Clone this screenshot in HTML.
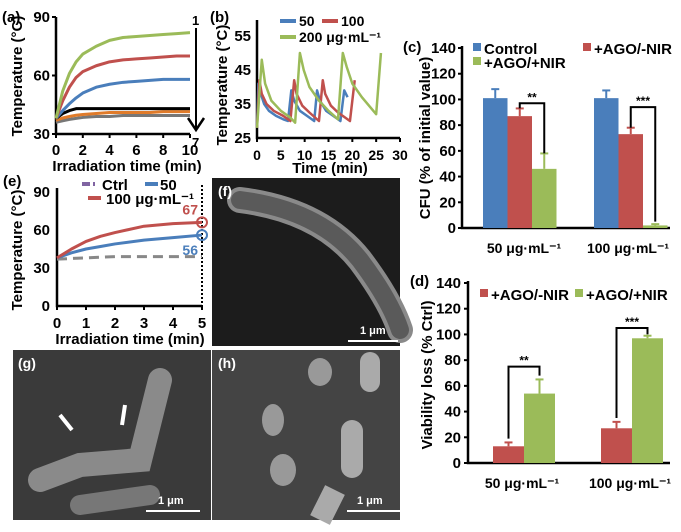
<!DOCTYPE html>
<html><head><meta charset="utf-8"><style>
body{margin:0;background:#fff;width:681px;height:527px;overflow:hidden}
svg{font-family:"Liberation Sans",Arial,sans-serif;font-weight:bold}
</style></head><body>
<svg id="fig" width="681" height="527" viewBox="0 0 681 527">
<g>
<rect x="212" y="178" width="188" height="168" fill="#1c1c1c"/>
<path d="M240 200 Q320 210 360 260 Q390 300 400 330" stroke="#8a8a8a" stroke-width="26" fill="none" stroke-linecap="round"/>
<path d="M240 200 Q320 210 360 260 Q390 300 400 330" stroke="#5a5a5a" stroke-width="18" fill="none" stroke-linecap="round"/>
<text x="218" y="196" fill="#fff" font-size="14">(f)</text>
<rect x="348" y="340" width="50" height="2" fill="#fff"/><text x="360" y="334" fill="#fff" font-size="11">1 μm</text>
<rect x="13" y="350" width="198" height="170" fill="#3a3a3a"/>
<path d="M40 480 L80 465 L140 460 L150 420 L160 380" stroke="#8a8a8a" stroke-width="24" fill="none" stroke-linecap="round"/>
<path d="M80 505 L150 495" stroke="#777" stroke-width="20" fill="none" stroke-linecap="round"/>
<path d="M60 415 L72 430 M125 405 L122 425" stroke="#fff" stroke-width="4"/>
<text x="18" y="368" fill="#fff" font-size="14">(g)</text>
<rect x="146" y="510" width="54" height="2" fill="#fff"/><text x="158" y="504" fill="#fff" font-size="11">1 μm</text>
<rect x="212" y="350" width="188" height="170" fill="#444"/>
<ellipse cx="320" cy="372" rx="12" ry="14" fill="#999"/><rect x="360" y="352" width="20" height="40" rx="10" fill="#aaa"/>
<ellipse cx="273" cy="420" rx="11" ry="16" fill="#999"/><ellipse cx="283" cy="470" rx="13" ry="16" fill="#999"/>
<rect x="341" y="420" width="22" height="58" rx="11" fill="#aaa"/><path d="M335 490 L320 520" stroke="#aaa" stroke-width="22"/>
<text x="218" y="368" fill="#fff" font-size="14">(h)</text>
<rect x="347" y="510" width="54" height="2" fill="#fff"/><text x="357" y="504" fill="#fff" font-size="11">1 μm</text>
</g>
<g id="charts"></g>
</svg>
<script>
// panel a
const aTimes=[0,0.5,1,1.5,2,3,4,5,6,7,8,9,10];
const aGreen=[38,52,61,67,71,75,78,79.5,80,80.5,81,81.5,82];
const aRed=[38,47,54,59,62,65,67,68,68.5,69,69.5,70,70];
const aBlue=[38,42,45.5,48.5,51,54,55.5,56.5,57,57.5,58,58,58];
const aBlack=[38,40.5,42,43,43,43,43,43,43,43,43,43,43];
const aOrange=[37,38.2,39,39.6,40,40.5,41,41,41,41,41.5,41.5,41.5];
const aGrey=[36,36.8,37.5,38,38.5,39,39,39.5,39.5,39.5,39.5,39.5,39.5];
const aYTicks=[30,60,90];
const aXTicks=[0,2,4,6,8,10];
// panel b
const bBlueT=[0,0.3,0.8,1.5,2.5,4,5.5,6.5,7.2,7.8,9,10.5,12,12.6,13.2,14.5,16,17.5,18.3,19];
const bBlueV=[28,41,38,35,33,31.5,30.5,30,39,36,33,31.5,30,39,36,33,31.5,30,39,37];
const bRedT=[0,0.5,1,2,3.5,5.5,7,7.8,8.3,9.5,11,13,13.8,14.3,15.5,17,19.5,20.5];
const bRedV=[28,42,38,35,33,31.5,30,42,38,34.5,32.5,30,42,38,34.5,32.5,30,42];
const bGreenT=[0,1,1.7,3,5,7,8,9,9.8,11,13,15,17,18,18.8,20,22,25,26];
const bGreenV=[28,48,41,36,33,31,29.5,50,45,40,36,33,30.5,50,46,41,37,32,50];
const bYTicks=[25,35,45,55];
const bXTicks=[0,5,10,15,20,25,30];
// panel e
const eTimes=[0,0.5,1,1.5,2,3,4,5];
const eRed=[38,45,51,55,58,63,65,66];
const eBlue=[38,42,45,47,49,52,54,56];
const eCtrl=[37,37.5,38,38.5,39,39,39,39];
const eYTicks=[0,30,60,90];
const eXTicks=[0,1,2,3,4,5];
// panel c
const cGroups=["50 μg·mL⁻¹","100 μg·mL⁻¹"];
const cControl=[101,101];const cControlErr=[7,6];
const cNeg=[87,73];const cNegErr=[6,5];
const cPos=[46,2];const cPosErr=[12,1];
const cYTicks=[0,20,40,60,80,100,120,140];
// panel d
const dNeg=[13,27];const dNegErr=[3,5];
const dPos=[54,97];const dPosErr=[11,2];
const dYTicks=[0,20,40,60,80,100,120,140];

const NS="http://www.w3.org/2000/svg";
const root=document.getElementById('charts');
function mk(tag,attrs,parent,txt){const e=document.createElementNS(NS,tag);for(const k in attrs)e.setAttribute(k,attrs[k]);if(txt!==undefined)e.textContent=txt;(parent||root).appendChild(e);return e;}
function lin(d0,d1,r0,r1){return v=>r0+(v-d0)/(d1-d0)*(r1-r0);}
const BLUE="#4a7ebb",RED="#c0504d",GREEN="#9bbb59";
const FS=15;

function line(xs,ys,X,Y,col,w,dash,name){
  const p=mk('polyline',{points:xs.map((t,i)=>X(t)+','+Y(ys[i])).join(' '),fill:'none',stroke:col,'stroke-width':w,'stroke-dasharray':dash||'none','stroke-linejoin':'round'});
  
  
}
function axes(x0,x1,y0,y1){mk('path',{d:`M${x0} ${y1} L${x0} ${y0} L${x1} ${y0}`,stroke:'#000','stroke-width':2.5,fill:'none'});}

// ---- (a)
{const X=lin(0,10,56,190),Y=lin(30,90,134,17);
axes(56,190,134,17);
aYTicks.forEach(v=>{mk('text',{x:50,y:Y(v)+5,'text-anchor':'end','font-size':FS},null,v);mk('line',{x1:52,x2:56,y1:Y(v),y2:Y(v),stroke:'#000','stroke-width':2});});
aXTicks.forEach(v=>{mk('text',{x:X(v),y:155,'text-anchor':'middle','font-size':FS},null,v);mk('line',{x1:X(v),x2:X(v),y1:134,y2:138,stroke:'#000','stroke-width':2});});
line(aTimes,aGrey,X,Y,'#777',3,null,'a-curve-7');
line(aTimes,aOrange,X,Y,'#e07b2a',3,null,'a-curve-6');
line(aTimes,aBlack,X,Y,'#000',3,null,'a-curve-5');
line(aTimes,aBlue,X,Y,BLUE,3,null,'a-curve-3');
line(aTimes,aRed,X,Y,RED,3,null,'a-curve-2');
line(aTimes,aGreen,X,Y,GREEN,3,null,'a-curve-1');
mk('line',{x1:196,x2:196,y1:28,y2:128,stroke:'#000','stroke-width':2});
mk('path',{d:'M188 118 L196 130 L204 118',stroke:'#000','stroke-width':2.5,fill:'none'});
mk('text',{x:192,y:25,'font-size':13},null,'1');mk('text',{x:192,y:147,'font-size':13},null,'7');
mk('text',{x:2,y:22,'font-size':15},null,'(a)');
mk('text',{x:127,y:171,'text-anchor':'middle','font-size':FS},null,'Irradiation time (min)');
mk('text',{transform:'translate(22,76) rotate(-90)','text-anchor':'middle','font-size':FS},null,'Temperature (°C)');}

// ---- (b)
{const X=lin(0,30,257,400),Y=lin(25,55,138,36);
axes(257,400,138,20);
bYTicks.forEach(v=>{mk('text',{x:251,y:Y(v)+5,'text-anchor':'end','font-size':FS},null,v);});
bXTicks.forEach(v=>{mk('text',{x:X(v),y:160,'text-anchor':'middle','font-size':14},null,v);mk('line',{x1:X(v),x2:X(v),y1:138,y2:142,stroke:'#000','stroke-width':2});});
line(bBlueT,bBlueV,X,Y,BLUE,2.5,null,'b-series-50');
line(bRedT,bRedV,X,Y,RED,2.5,null,'b-series-100');
line(bGreenT,bGreenV,X,Y,GREEN,2.5,null,'b-series-200');
mk('text',{x:210,y:22,'font-size':15},null,'(b)');
mk('line',{x1:280,x2:296,y1:21,y2:21,stroke:BLUE,'stroke-width':4});mk('text',{x:299,y:26,'font-size':14},null,'50');
mk('line',{x1:322,x2:338,y1:21,y2:21,stroke:RED,'stroke-width':4});mk('text',{x:341,y:26,'font-size':14},null,'100');
mk('line',{x1:280,x2:296,y1:37,y2:37,stroke:GREEN,'stroke-width':4});mk('text',{x:299,y:42,'font-size':14},null,'200 μg·mL⁻¹');
mk('text',{x:330,y:173,'text-anchor':'middle','font-size':FS},null,'Time (min)');
mk('text',{transform:'translate(227,85) rotate(-90)','text-anchor':'middle','font-size':FS},null,'Temperature (°C)');}

// ---- (e)
{const X=lin(0,5,57,202),Y=lin(0,90,306,192);
axes(57,202,306,188);
eYTicks.forEach(v=>{mk('text',{x:50,y:Y(v)+5,'text-anchor':'end','font-size':FS},null,v);});
eXTicks.forEach(v=>{mk('text',{x:X(v),y:328,'text-anchor':'middle','font-size':FS},null,v);mk('line',{x1:X(v),x2:X(v),y1:306,y2:310,stroke:'#000','stroke-width':2});});
mk('line',{x1:202,x2:202,y1:185,y2:306,stroke:'#000','stroke-width':2,'stroke-dasharray':'2 2'});
line(eTimes,eCtrl,X,Y,'#888',3,'10 6','e-ctrl');
line(eTimes,eBlue,X,Y,BLUE,3,null,'e-series-50');
line(eTimes,eRed,X,Y,RED,3,null,'e-series-100');
mk('circle',{cx:X(5),cy:Y(eRed[eRed.length-1]),r:5,fill:'none',stroke:RED,'stroke-width':2});
mk('circle',{cx:X(5),cy:Y(eBlue[eBlue.length-1]),r:5,fill:'none',stroke:BLUE,'stroke-width':2});
mk('text',{x:198,y:Y(eRed[eRed.length-1])-8,'text-anchor':'end','font-size':14,fill:RED},null,'67');
mk('text',{x:198,y:Y(eBlue[eBlue.length-1])+20,'text-anchor':'end','font-size':14,fill:BLUE},null,'56');
mk('text',{x:3,y:186,'font-size':15},null,'(e)');
mk('line',{x1:82,x2:95,y1:184,y2:184,stroke:'#8064a2','stroke-width':4,'stroke-dasharray':'8 3'});mk('text',{x:102,y:190,'font-size':FS},null,'Ctrl');
mk('line',{x1:145,x2:158,y1:184,y2:184,stroke:BLUE,'stroke-width':4});mk('text',{x:160,y:190,'font-size':FS},null,'50');
mk('line',{x1:88,x2:101,y1:198,y2:198,stroke:RED,'stroke-width':4});mk('text',{x:106,y:204,'font-size':FS},null,'100 μg·mL⁻¹');
mk('text',{x:130,y:344,'text-anchor':'middle','font-size':FS},null,'Irradiation time (min)');
mk('text',{transform:'translate(22,250) rotate(-90)','text-anchor':'middle','font-size':FS},null,'Temperature (°C)');}

function bar(x,w,v,err,Y,col,name){
  const r=mk('rect',{x:x,y:Y(v),width:w,height:Y(0)-Y(v),fill:col});
  
  
  mk('line',{x1:x+w/2,x2:x+w/2,y1:Y(v),y2:Y(v+err),stroke:col,'stroke-width':2});
  mk('line',{x1:x+w/2-4,x2:x+w/2+4,y1:Y(v+err),y2:Y(v+err),stroke:col,'stroke-width':2});
}
function sig(xa,ya,xb,yb,top,label){mk('path',{d:`M${xa} ${ya} L${xa} ${top} L${xb} ${top} L${xb} ${yb}`,stroke:'#000','stroke-width':2,fill:'none'});mk('text',{x:(xa+xb)/2,y:top-2,'text-anchor':'middle','font-size':12},null,label);}

// ---- (c)
{const Y=lin(0,140,228,48);const gx=[483,594];const w=24.5;const lx=[524,628];
axes(462,670,228,46);
cYTicks.forEach(v=>{mk('text',{x:456,y:Y(v)+5,'text-anchor':'end','font-size':FS},null,v);mk('line',{x1:458,x2:462,y1:Y(v),y2:Y(v),stroke:'#000','stroke-width':2});});
cGroups.forEach((g,i)=>{
 bar(gx[i],w,cControl[i],cControlErr[i],Y,BLUE,'c-control-bar-'+(i+1));
 bar(gx[i]+w,w,cNeg[i],cNegErr[i],Y,RED,'c-ago-nir-off-bar-'+(i+1));
 bar(gx[i]+2*w,w,cPos[i],cPosErr[i],Y,GREEN,'c-ago-nir-on-bar-'+(i+1));
 mk('text',{x:lx[i],y:253,'text-anchor':'middle','font-size':14},null,g);
});
sig(gx[0]+1.5*w,Y(cNeg[0]+cNegErr[0]),gx[0]+2.5*w,Y(cPos[0]+cPosErr[0]),Y(97),'**');
sig(gx[1]+1.5*w,Y(cNeg[1]+cNegErr[1]),gx[1]+2.5*w,Y(cPos[1]+cPosErr[1]+2),Y(94),'***');
mk('text',{x:403,y:52,'font-size':15},null,'(c)');
mk('rect',{x:473,y:43,width:8,height:8,fill:BLUE});mk('text',{x:484,y:54,'font-size':FS},null,'Control');
mk('rect',{x:583,y:43,width:8,height:8,fill:RED});mk('text',{x:594,y:54,'font-size':FS},null,'+AGO/-NIR');
mk('rect',{x:473,y:57,width:8,height:8,fill:GREEN});mk('text',{x:484,y:68,'font-size':FS},null,'+AGO/+NIR');
mk('text',{transform:'translate(430,138) rotate(-90)','text-anchor':'middle','font-size':FS},null,'CFU (% of initial value)');}

// ---- (d)
{const Y=lin(0,140,463,283);const gx=[493,601];const w=31;const lx=[522,630];
axes(468,670,463,281);
dYTicks.forEach(v=>{mk('text',{x:461,y:Y(v)+5,'text-anchor':'end','font-size':FS},null,v);mk('line',{x1:464,x2:468,y1:Y(v),y2:Y(v),stroke:'#000','stroke-width':2});});
cGroups.forEach((g,i)=>{
 bar(gx[i],w,dNeg[i],dNegErr[i],Y,RED,'d-ago-nir-off-bar-'+(i+1));
 bar(gx[i]+w,w,dPos[i],dPosErr[i],Y,GREEN,'d-ago-nir-on-bar-'+(i+1));
 mk('text',{x:lx[i],y:488,'text-anchor':'middle','font-size':14},null,g);
});
sig(gx[0]+w/2,Y(dNeg[0]+dNegErr[0]+3),gx[0]+1.5*w,Y(dPos[0]+dPosErr[0]+3),Y(75),'**');
sig(gx[1]+w/2,Y(dNeg[1]+dNegErr[1]+3),gx[1]+1.5*w,Y(dPos[1]+dPosErr[1]+1),Y(105),'***');
mk('text',{x:410,y:286,'font-size':15},null,'(d)');
mk('rect',{x:480,y:289,width:8,height:8,fill:RED});mk('text',{x:491,y:300,'font-size':FS},null,'+AGO/-NIR');
mk('rect',{x:575,y:289,width:8,height:8,fill:GREEN});mk('text',{x:586,y:300,'font-size':FS},null,'+AGO/+NIR');
mk('text',{transform:'translate(432,375) rotate(-90)','text-anchor':'middle','font-size':FS},null,'Viability loss (% Ctrl)');}
</script>
</body></html>
